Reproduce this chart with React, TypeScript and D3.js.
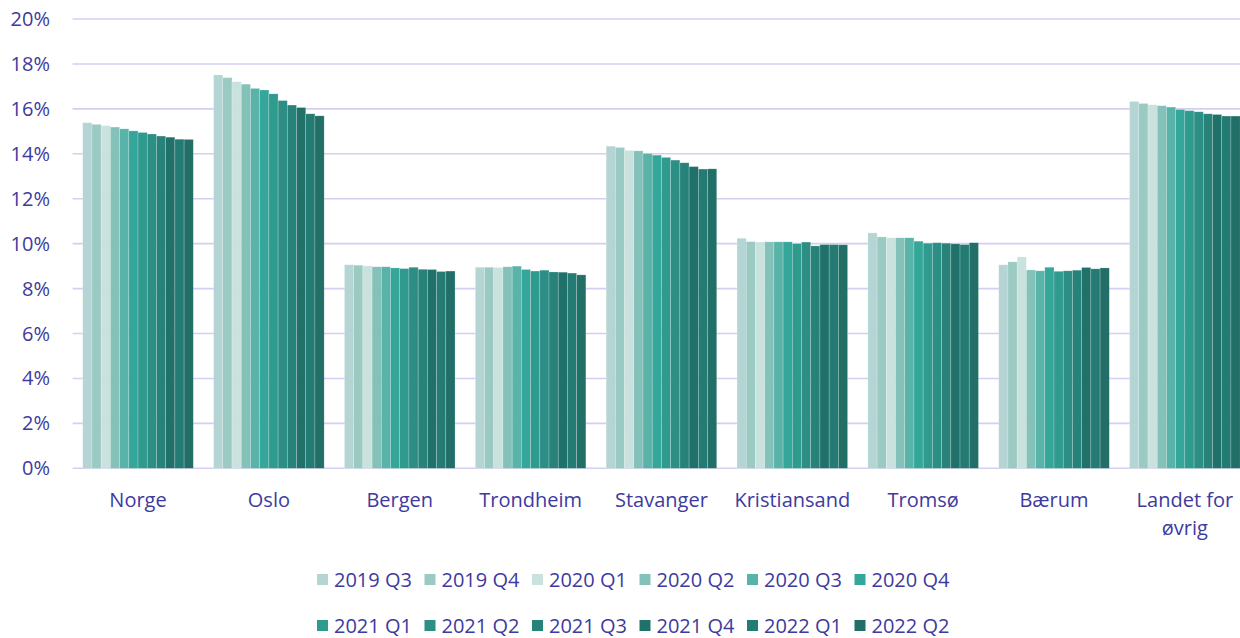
import React from "react";
import * as d3 from "d3";

const categories = ["Norge", "Oslo", "Bergen", "Trondheim", "Stavanger", "Kristiansand", "Tromsø", "Bærum", "Landet for øvrig"];
const seriesNames = ["2019 Q3", "2019 Q4", "2020 Q1", "2020 Q2", "2020 Q3", "2020 Q4", "2021 Q1", "2021 Q2", "2021 Q3", "2021 Q4", "2022 Q1", "2022 Q2"];
const seriesColors = ["#B4D5D3", "#9BCAC3", "#C9E2DE", "#84C1B9", "#5AB3A9", "#35A69A", "#2F9A8E", "#2C8E85", "#278379", "#20716A", "#247B73", "#226F68"];

// values in percent, one array per category (series order)
const norge = [15.38, 15.31, 15.25, 15.19, 15.11, 15.02, 14.95, 14.88, 14.79, 14.74, 14.65, 14.64];
const oslo = [17.51, 17.39, 17.21, 17.1, 16.91, 16.84, 16.67, 16.37, 16.17, 16.06, 15.78, 15.69];
const bergen = [9.06, 9.04, 9.01, 8.97, 8.97, 8.92, 8.89, 8.95, 8.86, 8.85, 8.76, 8.78];
const trondheim = [8.95, 8.95, 8.94, 8.97, 9.0, 8.85, 8.78, 8.82, 8.74, 8.73, 8.69, 8.61];
const stavanger = [14.34, 14.28, 14.15, 14.13, 14.01, 13.94, 13.84, 13.72, 13.6, 13.43, 13.32, 13.33];
const kristiansand = [10.24, 10.09, 10.07, 10.08, 10.08, 10.08, 10.0, 10.07, 9.9, 9.96, 9.96, 9.95];
const tromso = [10.48, 10.3, 10.26, 10.26, 10.26, 10.11, 10.02, 10.04, 10.02, 9.99, 9.96, 10.04];
const baerum = [9.06, 9.19, 9.41, 8.83, 8.79, 8.95, 8.77, 8.79, 8.82, 8.94, 8.88, 8.92];
const landet = [16.33, 16.24, 16.18, 16.14, 16.08, 15.97, 15.92, 15.87, 15.78, 15.75, 15.68, 15.68];

const valuesByCategory = [norge, oslo, bergen, trondheim, stavanger, kristiansand, tromso, baerum, landet];
const yTicks = [0, 2, 4, 6, 8, 10, 12, 14, 16, 18, 20];

const W = 1240;
const H = 638;
const TEXT = "#3D3AA0";
const GRID = "#D3CFF0";
const FONT = "'Open Sans', sans-serif";

export default function App() {
  const plotLeft = 72.6;
  const plotRight = 1250.3;
  const y = d3.scaleLinear().domain([0, 20]).range([468.3, 19]);
  const x0 = d3.scaleBand<string>().domain(categories).range([plotLeft, plotRight]).paddingInner(0.155).paddingOuter(0.0775);
  const x1 = d3.scaleBand<string>().domain(seriesNames).range([0, x0.bandwidth()]).padding(0);

  const legendRows = [seriesNames.slice(0, 6), seriesNames.slice(6)];
  const legendStep = 107.5;
  const legendX0 = 320;
  const legendYs = [580, 626];

  return (
    <svg width={W} height={H} style={{ position: "fixed", left: 0, top: 0, background: "#fff" }} fontFamily={FONT}>
      <rect x={0} y={0} width={W} height={H} fill="#fff" />
      {yTicks.map((t) => (
        <g key={t}>
          <line x1={plotLeft} x2={W} y1={y(t)} y2={y(t)} stroke={GRID} strokeWidth={1.6} />
          <text x={50} y={y(t)} dy="0.35em" textAnchor="end" fontSize={20} fill={TEXT}>
            {t}%
          </text>
        </g>
      ))}
      {categories.map((c, ci) => (
        <g key={c} transform={`translate(${x0(c)},0)`}>
          {seriesNames.map((s, si) => {
            const v = valuesByCategory[ci][si];
            return (
              <rect
                key={s}
                x={x1(s)}
                y={y(v)}
                width={x1.bandwidth()}
                height={y(0) - y(v)}
                fill={seriesColors[si]}
                stroke="#ffffff"
                strokeOpacity={0.35}
                strokeWidth={0.6}
              />
            );
          })}
        </g>
      ))}
      {categories.map((c) => {
        const cx = (x0(c) as number) + x0.bandwidth() / 2;
        const lines = c === "Landet for øvrig" ? ["Landet for", "øvrig"] : [c];
        return (
          <text key={c} x={cx} y={500} textAnchor="middle" fontSize={20} fill={TEXT}>
            {lines.map((l, i) => (
              <tspan key={i} x={cx} y={500 + i * 28} dy="0.35em">
                {l}
              </tspan>
            ))}
          </text>
        );
      })}
      {legendRows.map((row, ri) => (
        <g key={ri}>
          {row.map((s, i) => {
            const si = ri * 6 + i;
            const lx = legendX0 + i * legendStep;
            const ly = legendYs[ri];
            return (
              <g key={s}>
                <rect x={lx - 3} y={ly - 6} width={11} height={11} fill={seriesColors[si]} />
                <text x={lx + 14} y={ly} dy="0.35em" fontSize={20} fill={TEXT}>
                  {s}
                </text>
              </g>
            );
          })}
        </g>
      ))}
    </svg>
  );
}
